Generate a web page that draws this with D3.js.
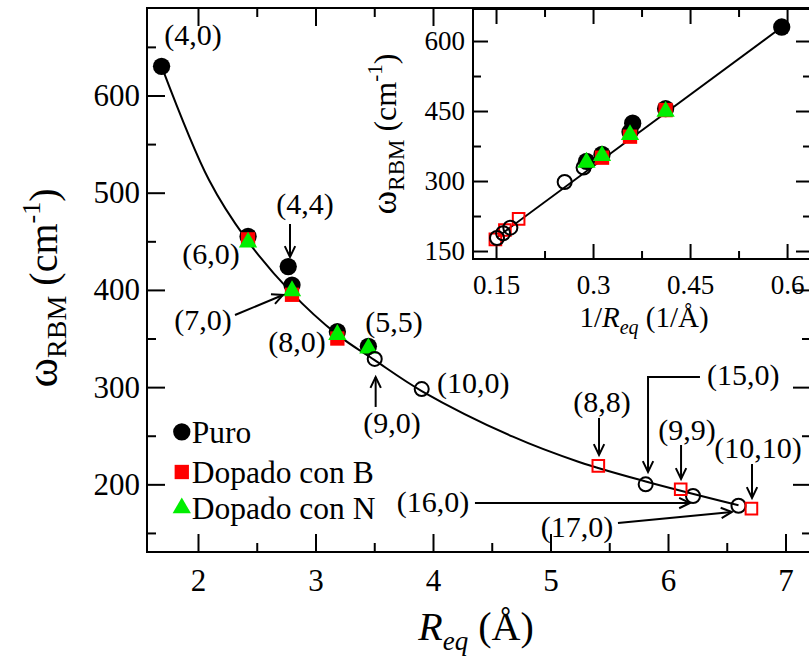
<!DOCTYPE html>
<html><head><meta charset="utf-8">
<script src="https://cdn.jsdelivr.net/npm/d3@7"></script>
<style>
body{margin:0;background:#fff}
svg{display:block}
svg text{font-family:"Liberation Serif","DejaVu Serif",serif !important;fill:#000}
</style>
</head><body>
<svg id="c" width="809" height="661" font-family="Liberation Serif"></svg>
<script>
// ---------------- data ----------------
// pure tubes, small diameters: (4,0),(6,0),(4,4),(7,0),(8,0),(5,5)
const puroR = [1.69, 2.426, 2.768, 2.80, 3.186, 3.45];
const puroW = [630, 455, 424, 405, 357, 342];
// B-doped: (6,0),(7,0),(8,0)
const dopBR = [2.426, 2.80, 3.186];
const dopBW = [452, 395, 350];
// N-doped: (6,0),(7,0),(8,0),(5,5)
const dopNR = [2.426, 2.80, 3.186, 3.45];
const dopNW = [449, 399, 354, 340];
// open circles: (9,0),(10,0),(15,0),(16,0),(17,0)
const openCR = [3.504, 3.904, 5.81, 6.213, 6.6];
const openCW = [329, 298, 200, 188, 178];
// open red squares: (8,8),(9,9),(10,10)
const openSR = [5.407, 6.108, 6.71];
const openSW = [219, 195, 175];
// fitted curve in the main panel
const fitR = [1.69, 2.094, 2.406, 2.789, 3.186, 3.5, 3.904, 4.68, 5.243, 5.81, 6.6];
const fitW = [630, 513, 453, 398, 354, 328, 296, 249, 223, 203, 178.5];
// straight fit line in the inset (1/R, w)
const insetFitInvR = [0.151, 0.592];
const insetFitW = [179, 630];

const xMajor = [2, 3, 4, 5, 6, 7];
const xMinor = [2.5, 3.5, 4.5, 5.5, 6.5];
const yMajor = [200, 300, 400, 500, 600];
const yMinor = [150, 250, 350, 450, 550, 650];
const ixMajor = [0.15, 0.3, 0.45, 0.6];
const ixMinor = [0.225, 0.375, 0.525];
const iyMajor = [150, 300, 450, 600];
const iyMinor = [225, 375, 525];
const legendLabels = ["Puro", "Dopado con B", "Dopado con N"];

const annLabels = ["(4,0)","(4,4)","(6,0)","(7,0)","(8,0)","(5,5)","(9,0)","(10,0)","(8,8)","(15,0)","(9,9)","(10,10)","(16,0)","(17,0)"];
// label anchors and arrow paths in data units (R, w)
const annLayout = [
  {at:[1.957,652]},
  {at:[2.911,478], arrow:[[2.783,467.8],[2.783,433.9]]},
  {at:[2.111,426.7]},
  {at:[2.043,358.8], arrow:[[2.315,374.2],[2.723,394.8]]},
  {at:[2.843,336.2]},
  {at:[3.668,356.7]},
  {at:[3.651,252.8], arrow:[[3.512,279.6],[3.512,310.4]]},
  {at:[4.034,294], anchor:"start"},
  {at:[5.438,274.4], arrow:[[5.413,268.3],[5.413,230.2]]},
  {at:[6.332,302.2], anchor:"start", arrow:[[6.272,310.4],[5.830,310.4],[5.830,212.7]]},
  {at:[6.162,245.6], arrow:[[6.111,240.5],[6.111,205.5]]},
  {at:[6.766,227.1], arrow:[[6.715,220.9],[6.715,186.0]]},
  {at:[4.0,171.6], arrow:[[4.357,180.8],[6.187,180.8]]},
  {at:[5.226,145.8], arrow:[[5.574,160.2],[6.544,171.6]]}
];
const legendAt = [[1.862, 254], [1.862, 212.7], [1.862, 175.7]];

// ---------------- drawing ----------------
const svg = d3.select("#c");
const RED = "#ff0000", GREEN = "#00ee00";
const FONT = "Liberation Serif";

const mx = d3.scaleLinear([1.566, 7.217], [147, 811]);
const my = d3.scaleLinear([130.4, 690], [552, 8]);
const ix = d3.scaleLinear([0.1144, 0.637], [473, 811]);
const iy = d3.scaleLinear([132.9, 668.6], [259, 9]);

function axesBox(g, x, y, xMaj, xMin, yMaj, yMin, L, l, fs, padX, padY, fmt) {
  const [x0, x1] = x.range(), [y0, y1] = y.range();
  g.append("rect").attr("x", x0).attr("y", y1).attr("width", x1 - x0).attr("height", y0 - y1)
    .attr("fill", "#fff").attr("stroke", "none");
  const mk = (gen, tr, vals, len, labels, pad) => {
    const a = g.append("g").attr("transform", tr)
      .call(gen.tickValues(vals).tickSize(-len).tickPadding(pad).tickFormat(labels ? fmt : () => ""));
    a.select(".domain").remove();
    a.selectAll("line").attr("stroke", "#000").attr("stroke-width", 2);
    a.attr("font-family", FONT).attr("font-size", fs);
    a.selectAll("text").style("font-size", fs + "px").style("font-family", FONT);
    return a;
  };
  mk(d3.axisBottom(x), `translate(0,${y0})`, xMaj, L, true, padX);
  mk(d3.axisBottom(x), `translate(0,${y0})`, xMin, l, false, 0);
  mk(d3.axisTop(x), `translate(0,${y1})`, xMaj, L, false, 0);
  mk(d3.axisTop(x), `translate(0,${y1})`, xMin, l, false, 0);
  mk(d3.axisLeft(y), `translate(${x0},0)`, yMaj, L, true, padY);
  mk(d3.axisLeft(y), `translate(${x0},0)`, yMin, l, false, 0);
  mk(d3.axisRight(y), `translate(${x1},0)`, yMaj, L, false, 0);
  mk(d3.axisRight(y), `translate(${x1},0)`, yMin, l, false, 0);
  g.append("rect").attr("x", x0).attr("y", y1).attr("width", x1 - x0).attr("height", y0 - y1)
    .attr("fill", "none").attr("stroke", "#000").attr("stroke-width", 2);
}

function markers(g, xs, ys, kind) {
  const pts = d3.zip(xs, ys);
  const sel = g.append("g").selectAll("path").data(pts).join("path")
    .attr("transform", d => `translate(${d[0]},${d[1]})`);
  if (kind === "dot") sel.attr("d", d3.symbol(d3.symbolCircle, 235)).attr("fill", "#000");
  if (kind === "sq") sel.attr("d", d3.symbol(d3.symbolSquare, 205)).attr("fill", RED);
  if (kind === "tri") sel.attr("d", d3.symbol(d3.symbolTriangle, 145)).attr("fill", GREEN);
  if (kind === "ocirc") sel.attr("d", d3.symbol(d3.symbolCircle, 155)).attr("fill", "none").attr("stroke", "#000").attr("stroke-width", 2);
  if (kind === "osq") sel.attr("d", d3.symbol(d3.symbolSquare, 135)).attr("fill", "none").attr("stroke", RED).attr("stroke-width", 2);
}

function arrow(g, pts) {
  g.append("path").attr("d", d3.line()(pts)).attr("fill", "none").attr("stroke", "#000").attr("stroke-width", 2);
  const [a, b] = pts.slice(-2);
  const ang = Math.atan2(b[1] - a[1], b[0] - a[0]);
  const len = 12, sp = 0.45;
  const h1 = [b[0] - len * Math.cos(ang - sp), b[1] - len * Math.sin(ang - sp)];
  const h2 = [b[0] - len * Math.cos(ang + sp), b[1] - len * Math.sin(ang + sp)];
  g.append("path").attr("d", d3.line()([h1, b, h2])).attr("fill", "none").attr("stroke", "#000").attr("stroke-width", 2);
}

function txt(parent) { return parent.append("text").style("font-family", FONT); }

// ===== main panel =====
const gm = svg.append("g");
axesBox(gm, mx, my, xMajor, xMinor, yMajor, yMinor, 18, 9, 31, 17, 7, d => String(d));

gm.append("path")
  .attr("d", d3.line().x(d => mx(d[0])).y(d => my(d[1])).curve(d3.curveCatmullRom.alpha(0.5))(d3.zip(fitR, fitW)))
  .attr("fill", "none").attr("stroke", "#000").attr("stroke-width", 2);

markers(gm, puroR.map(mx), puroW.map(my), "dot");
markers(gm, dopBR.map(mx), dopBW.map(my), "sq");
markers(gm, dopNR.map(mx), dopNW.map(my), "tri");
markers(gm, openCR.map(mx), openCW.map(my), "ocirc");
markers(gm, openSR.map(mx), openSW.map(my), "osq");

annLabels.forEach((t, i) => {
  const a = annLayout[i];
  txt(gm).attr("x", mx(a.at[0])).attr("y", my(a.at[1]))
    .attr("text-anchor", a.anchor || "middle").style("font-size", "30px").text(t);
  if (a.arrow) arrow(gm, a.arrow.map(p => [mx(p[0]), my(p[1])]));
});

// legend
const kinds = ["dot", "sq", "tri"];
legendLabels.forEach((t, i) => {
  const px = mx(legendAt[i][0]), py = my(legendAt[i][1]);
  markers(gm, [px], [py], kinds[i]);
  txt(gm).attr("x", px + 10).attr("y", py + 11).style("font-size", "31.5px").text(t);
});

// axis titles
const yt = txt(svg).attr("transform", "translate(57,288) rotate(-90)").attr("text-anchor", "middle");
yt.append("tspan").style("font-size", "45px").text("ω");
yt.append("tspan").style("font-size", "28px").attr("dy", 9).text("RBM");
yt.append("tspan").style("font-size", "40px").attr("dy", -9).text(" (cm");
yt.append("tspan").style("font-size", "26px").attr("dy", -17).text("-1");
yt.append("tspan").style("font-size", "40px").attr("dy", 17).text(")");

const xt = txt(svg).attr("x", 476).attr("y", 640).attr("text-anchor", "middle");
xt.append("tspan").style("font-size", "40px").style("font-style", "italic").text("R");
xt.append("tspan").style("font-size", "27px").style("font-style", "italic").attr("dy", 10).text("eq");
xt.append("tspan").style("font-size", "40px").attr("dy", -10).text(" (Å)");

// ===== inset =====
const gi = svg.append("g");
axesBox(gi, ix, iy, ixMajor, ixMinor, iyMajor, iyMinor, 15, 8, 27, 16, 8, d => String(d));

gi.append("path")
  .attr("d", d3.line().x(d => ix(d[0])).y(d => iy(d[1]))(d3.zip(insetFitInvR, insetFitW)))
  .attr("fill", "none").attr("stroke", "#000").attr("stroke-width", 2);

const inv = v => 1 / v;
markers(gi, openSR.map(inv).map(ix), openSW.map(iy), "osq");
markers(gi, openCR.map(inv).map(ix), openCW.map(iy), "ocirc");
markers(gi, puroR.map(inv).map(ix), puroW.map(iy), "dot");
markers(gi, dopBR.map(inv).map(ix), dopBW.map(iy), "sq");
markers(gi, dopNR.map(inv).map(ix), dopNW.map(iy), "tri");

const iyt = txt(svg).attr("transform", "translate(396,134) rotate(-90)").attr("text-anchor", "middle");
iyt.append("tspan").style("font-size", "36px").text("ω");
iyt.append("tspan").style("font-size", "23px").attr("dy", 8).text("RBM");
iyt.append("tspan").style("font-size", "32px").attr("dy", -8).text(" (cm");
iyt.append("tspan").style("font-size", "21px").attr("dy", -14).text("-1");
iyt.append("tspan").style("font-size", "32px").attr("dy", 14).text(")");

const ixt = txt(svg).attr("x", 644).attr("y", 327).attr("text-anchor", "middle");
ixt.append("tspan").style("font-size", "29px").text("1/");
ixt.append("tspan").style("font-size", "29px").style("font-style", "italic").text("R");
ixt.append("tspan").style("font-size", "20px").style("font-style", "italic").attr("dy", 7).text("eq");
ixt.append("tspan").style("font-size", "29px").attr("dy", -7).text(" (1/Å)");
</script>
</body></html>
